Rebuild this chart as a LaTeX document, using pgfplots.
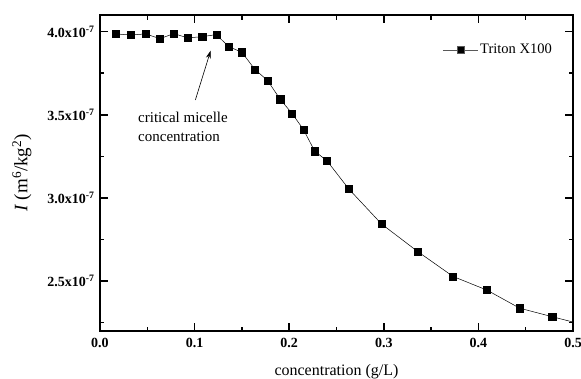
\documentclass[border=0pt]{standalone}
\usepackage{pgfplots}
\pgfplotsset{compat=1.18}
\usepackage{fontspec}
\setmainfont{Liberation Serif}
\usetikzlibrary{arrows.meta}
\begin{document}
\begin{tikzpicture}
\path[use as bounding box] (-100pt,-47pt) rectangle (481pt,331pt);
\begin{axis}[
  scale only axis,
  width=473pt, height=316pt,
  at={(0,0)}, anchor=south west,
  xmin=0, xmax=0.5, ymin=2.2, ymax=4.1,
  xtick={0,0.1,0.2,0.3,0.4,0.5},
  xticklabels={\textbf{0.0},\textbf{0.1},\textbf{0.2},\textbf{0.3},\textbf{0.4},\textbf{0.5}},
  minor xtick={0.05,0.15,0.25,0.35,0.45},
  ytick={2.5,3.0,3.5,4.0},
  yticklabels={\textbf{2.5x10}\textsuperscript{\textbf{-7}},\textbf{3.0x10}\textsuperscript{\textbf{-7}},\textbf{3.5x10}\textsuperscript{\textbf{-7}},\textbf{4.0x10}\textsuperscript{\textbf{-7}}},
  minor ytick={2.25,2.75,3.25,3.75},
  tick align=inside,
  major tick length=8pt, minor tick length=4.5pt,
  axis line style={line width=1.6pt},
  every tick/.style={black, line width=1.5pt},
  ticklabel style={font=\fontsize{14}{16}\selectfont},
  xticklabel style={yshift=-4pt},
  yticklabel style={xshift=-2pt},
  xlabel={concentration (g/L)},
  xlabel style={font=\fontsize{16}{19}\selectfont, at={(axis description cs:0.5,0)}, anchor=base, yshift=-44pt},
  ylabel={\textit{I} (m\textsuperscript{6}/kg\textsuperscript{2})},
  ylabel style={font=\fontsize{19}{22}\selectfont, at={(axis description cs:-0.165,0.5)}, anchor=center},
  legend style={draw=none, fill=none, at={(rel axis cs:1,1)}, anchor=north east, xshift=-16pt, yshift=-25pt, font=\fontsize{14.5}{17}\selectfont},
  legend image code/.code={\draw[mark repeat=2,mark phase=2,gray!70!black,line width=0.5pt] plot coordinates {(0pt,0pt) (17.5pt,0pt) (35pt,0pt)};},
]
\addplot[black, line width=0.5pt, mark=square*, mark size=3.6pt, mark options={solid, fill=black}] coordinates {
(0.0169,3.986) (0.0325,3.980) (0.048,3.986) (0.0635,3.958) (0.078,3.988)
(0.093,3.962) (0.108,3.970) (0.123,3.982) (0.136,3.910) (0.150,3.876)
(0.1637,3.773) (0.177,3.707) (0.1905,3.593) (0.203,3.508) (0.215,3.412)
(0.227,3.281) (0.240,3.223) (0.263,3.054) (0.2977,2.843) (0.3358,2.678)
(0.3732,2.528) (0.409,2.446) (0.4437,2.337) (0.478,2.286) (0.515,2.232)
};
\addlegendentry{Triton X100}
\draw[-{Stealth[length=8pt,width=5pt]}, line width=0.6pt] (axis cs:0.1008,3.589) -- (axis cs:0.117,3.886);
\node[anchor=west, align=left, font=\fontsize{15}{19}\selectfont, inner sep=0pt] at (axis cs:0.0402,3.428) {critical micelle\\concentration};
\end{axis}
\end{tikzpicture}
\end{document}
